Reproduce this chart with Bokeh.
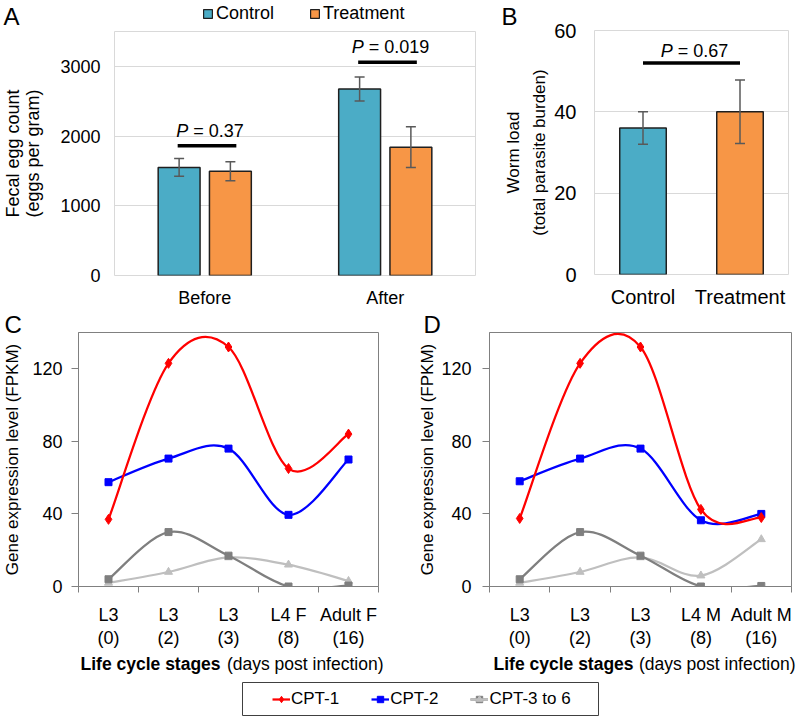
from bokeh.plotting import figure
from bokeh.models import (ColumnDataSource, FactorRange, Range1d, FixedTicker, Label,
                          Legend, LegendItem)
from bokeh.transform import dodge
from bokeh.layouts import column, row
from bokeh.core.properties import value
from bokeh.embed import file_html
from bokeh.resources import INLINE

FONT = "Liberation Sans"

# ---------------- Panel A: fecal egg count ----------------
groups = ["Before", "After"]
control_fec = [1550, 2675]
control_fec_err = [128, 171]
treatment_fec = [1495, 1840]
treatment_fec_err = [135, 292]
fec_p_values = ["0.37", "0.019"]
fec_p_bar = [1860, 3060]

# ---------------- Panel B: worm load ----------------
worm_groups = ["Control", "Treatment"]
worm_load = [36, 40]
worm_err = [4, 7.8]
worm_p_value = "0.67"
worm_p_bar = 52

# ---------------- Panels C / D: gene expression ----------------
stages_f = ["L3\n(0)", "L3\n(2)", "L3\n(3)", "L4 F\n(8)", "Adult F\n(16)"]
stages_m = ["L3\n(0)", "L3\n(2)", "L3\n(3)", "L4 M\n(8)", "Adult M\n(16)"]
cpt1_f = [37, 123, 132, 65, 84]
cpt2_f = [57.5, 70.5, 76, 39.5, 70]
cpt_dark_f = [4, 30, 17, 0, 0.5]
cpt_light_f = [2, 8, 16, 12, 3]
cpt1_m = [37.5, 123, 132, 42.5, 38]
cpt2_m = [58, 70.5, 76, 36.5, 40]
cpt_dark_m = [4, 30, 17, 0, 0.3]
cpt_light_m = [2, 8, 16, 6, 26]
expr_ticks = [0, 40, 80, 120]

TEAL = "#4bacc6"
ORANGE = "#f79646"
EDGE = "#1f1f1f"
ERR = "#595959"
LIGHTGRID = "#d9d9d9"
AXGRAY = "#808080"
RED = "#ff0000"
BLUE = "#0000ff"
DGRAY = "#7f7f7f"
LGRAY = "#bfbfbf"


def make_fig(width, height, x_range, y_range, bl, br, bt, bb, **kw):
    p = figure(width=width, height=height, x_range=x_range, y_range=y_range,
               output_backend="svg", toolbar_location=None,
               min_border_left=bl, min_border_right=br,
               min_border_top=bt, min_border_bottom=bb, **kw)
    p.background_fill_color = "white"
    p.border_fill_color = "white"
    return p


def strip(width, height, x_range=None, y_range=None, bl=0, br=0, bt=0, bb=0):
    p = make_fig(width, height, x_range or Range1d(0, 1), y_range or Range1d(0, 1), bl, br, bt, bb,
                 x_axis_location=None, y_axis_location=None)
    p.grid.visible = False
    p.outline_line_color = None
    return p


def style_axes(p, size):
    for ax in (p.xaxis + p.yaxis):
        ax.major_label_text_font = FONT
        ax.major_label_text_font_size = size
        ax.major_label_text_color = "black"
        ax.minor_tick_line_color = None
        ax.axis_label_text_font = FONT
        ax.axis_label_text_font_style = "normal"
        ax.axis_label_text_color = "black"


def label(p, text, x, y, size, align="left", baseline="middle", style="normal"):
    p.add_layout(Label(x=x, y=y, x_units="screen", y_units="screen", text=text,
                       text_align=align, text_baseline=baseline,
                       text_font=FONT, text_font_size=size, text_font_style=style,
                       text_color="black"))


def letter_title(p, letter, offset, standoff):
    p.title.text = letter
    p.title.align = "left"
    p.title.offset = offset
    p.title.text_font = FONT
    p.title.text_font_size = "24px"
    p.title.text_font_style = "normal"
    p.title.text_color = "black"
    p.title.standoff = standoff


def p_text_offsets(pv, size=18):
    w = size * (0.667 + 0.278 + 0.584 + 0.278 + sum(0.278 if c == "." else 0.556 for c in pv))
    return -w / 2 + 0.667 * size + 3, -w / 2 + (0.667 + 0.278) * size + 3


# ---------------- Panel A ----------------
pA = make_fig(500, 282, FactorRange(factors=groups), Range1d(0, 3500), 113, 25, 3, 33)
srcA = ColumnDataSource(dict(
    g=groups,
    c=control_fec, c_hi=[v + e for v, e in zip(control_fec, control_fec_err)],
    c_lo=[v - e for v, e in zip(control_fec, control_fec_err)],
    t=treatment_fec, t_hi=[v + e for v, e in zip(treatment_fec, treatment_fec_err)],
    t_lo=[v - e for v, e in zip(treatment_fec, treatment_fec_err)],
    pb=fec_p_bar,
    ptxt=["= " + v for v in fec_p_values],
    off_p=[p_text_offsets(v)[0] for v in fec_p_values],
    off_e=[p_text_offsets(v)[1] for v in fec_p_values],
))
pA.vbar(x=dodge("g", -0.142, range=pA.x_range), top="c", width=0.232, source=srcA,
        fill_color=TEAL, line_color=EDGE, line_width=1.5)
pA.vbar(x=dodge("g", 0.142, range=pA.x_range), top="t", width=0.232, source=srcA,
        fill_color=ORANGE, line_color=EDGE, line_width=1.5)
for off, hi, lo in ((-0.142, "c_hi", "c_lo"), (0.142, "t_hi", "t_lo")):
    xd = dodge("g", off, range=pA.x_range)
    pA.segment(x0=xd, x1=xd, y0=lo, y1=hi, source=srcA, line_color=ERR, line_width=1.5)
    pA.scatter(x=xd, y=hi, source=srcA, marker="dash", size=10, line_color=ERR, line_width=1.5)
    pA.scatter(x=xd, y=lo, source=srcA, marker="dash", size=10, line_color=ERR, line_width=1.5)
pA.segment(x0=dodge("g", -0.15, range=pA.x_range), x1=dodge("g", 0.175, range=pA.x_range),
           y0="pb", y1="pb", source=srcA, line_color="black", line_width=3.5)
pA.text(x=dodge("g", 0.0125, range=pA.x_range), y="pb", text=value("P"), source=srcA,
        x_offset="off_p", y_offset=-15, text_align="right", text_baseline="alphabetic",
        text_font=value(FONT), text_font_size="18px", text_font_style="italic", text_color="black")
pA.text(x=dodge("g", 0.0125, range=pA.x_range), y="pb", text="ptxt", source=srcA,
        x_offset="off_e", y_offset=-15, text_align="left", text_baseline="alphabetic",
        text_font=value(FONT), text_font_size="18px", text_color="black")
pA.xgrid.visible = False
tickA = FixedTicker(ticks=[0, 1000, 2000, 3000], minor_ticks=[])
pA.yaxis.ticker = tickA
pA.ygrid.ticker = tickA
pA.ygrid.grid_line_color = LIGHTGRID
pA.outline_line_color = LIGHTGRID
style_axes(pA, "18px")
for ax in (pA.xaxis + pA.yaxis):
    ax.axis_line_color = None
    ax.major_tick_line_color = None
    ax.major_tick_out = 0
    ax.major_tick_in = 0
pA.yaxis.major_label_standoff = 14
pA.xaxis.major_label_standoff = 12
pA.yaxis.axis_label = "Fecal egg count\n(eggs per gram)"
pA.yaxis.axis_label_text_font_size = "18px"
pA.yaxis.axis_label_text_line_height = 1.0
pA.yaxis.axis_label_standoff = 14

# header strip of panel A: letter and legend (legend proxies lie outside the strip's ranges)
hA = strip(500, 28, FactorRange(factors=groups), Range1d(5000, 5001))
pxA = ColumnDataSource(dict(g=groups, c=control_fec, t=treatment_fec))
lc = hA.vbar(x="g", top="c", width=0.2, source=pxA, fill_color=TEAL, line_color=EDGE, line_width=1.2)
lt = hA.vbar(x="g", top="t", width=0.2, source=pxA, fill_color=ORANGE, line_color=EDGE, line_width=1.2)
legA = Legend(items=[LegendItem(label="Control", renderers=[lc]),
                     LegendItem(label="Treatment", renderers=[lt])],
              orientation="horizontal", location=(202, 4), glyph_width=11, glyph_height=11,
              label_standoff=3, spacing=35, padding=0, margin=0,
              border_line_color=None, background_fill_alpha=0,
              label_text_font=FONT, label_text_font_size="18px", label_text_color="black")
hA.add_layout(legA)
label(hA, "A", 3, 12, "24px", baseline="alphabetic")

# ---------------- Panel B ----------------
pB = make_fig(300, 310, FactorRange(factors=worm_groups), Range1d(0, 60), 93, 12, 28, 34, title="B")
letter_title(pB, "B", -93, 1)
srcB = ColumnDataSource(dict(
    g=worm_groups, v=worm_load,
    hi=[v + e for v, e in zip(worm_load, worm_err)],
    lo=[v - e for v, e in zip(worm_load, worm_err)],
    color=[TEAL, ORANGE],
))
pB.vbar(x="g", top="v", width=0.48, source=srcB, fill_color="color", line_color=EDGE, line_width=1.5)
pB.segment(x0="g", x1="g", y0="lo", y1="hi", source=srcB, line_color=ERR, line_width=1.5)
pB.scatter(x="g", y="hi", source=srcB, marker="dash", size=10, line_color=ERR, line_width=1.5)
pB.scatter(x="g", y="lo", source=srcB, marker="dash", size=10, line_color=ERR, line_width=1.5)
srcBp = ColumnDataSource(dict(g0=[worm_groups[0]], g1=[worm_groups[1]], pb=[worm_p_bar],
                              ptxt=["= " + worm_p_value]))
pB.segment(x0="g0", x1="g1", y0="pb", y1="pb", source=srcBp, line_color="black", line_width=3.5)
offp, offe = p_text_offsets(worm_p_value)
pB.text(x=dodge("g0", 0.5, range=pB.x_range), y="pb", text=value("P"), source=srcBp,
        x_offset=offp, y_offset=-12, text_align="right", text_baseline="alphabetic",
        text_font=value(FONT), text_font_size="18px", text_font_style="italic", text_color="black")
pB.text(x=dodge("g0", 0.5, range=pB.x_range), y="pb", text="ptxt", source=srcBp,
        x_offset=offe, y_offset=-12, text_align="left", text_baseline="alphabetic",
        text_font=value(FONT), text_font_size="18px", text_color="black")
pB.xgrid.visible = False
tickB = FixedTicker(ticks=[0, 20, 40, 60], minor_ticks=[])
pB.yaxis.ticker = tickB
pB.ygrid.ticker = tickB
pB.ygrid.grid_line_color = LIGHTGRID
pB.outline_line_color = LIGHTGRID
style_axes(pB, "20px")
for ax in (pB.xaxis + pB.yaxis):
    ax.axis_line_color = None
    ax.major_tick_line_color = None
    ax.major_tick_out = 0
    ax.major_tick_in = 0
pB.yaxis.major_label_standoff = 18
pB.xaxis.major_label_standoff = 11
pB.yaxis.axis_label = "Worm load\n(total parasite burden)"
pB.yaxis.axis_label_text_font_size = "17px"
pB.yaxis.axis_label_text_line_height = 1.4
pB.yaxis.axis_label_standoff = 2


# ---------------- Panels C / D ----------------
def smooth_source(ys):
    xs = list(range(len(ys)))
    n = len(ys)
    d = dict(x0=[], y0=[], x1=[], y1=[], cx0=[], cy0=[], cx1=[], cy1=[])
    for i in range(n - 1):
        a = i - 1 if i > 0 else i
        b = i + 2 if i + 2 < n else i + 1
        d["x0"].append(xs[i]); d["y0"].append(ys[i])
        d["x1"].append(xs[i + 1]); d["y1"].append(ys[i + 1])
        d["cx0"].append(xs[i] + (xs[i + 1] - xs[a]) / 6)
        d["cy0"].append(ys[i] + (ys[i + 1] - ys[a]) / 6)
        d["cx1"].append(xs[i + 1] - (xs[b] - xs[i]) / 6)
        d["cy1"].append(ys[i + 1] - (ys[b] - ys[i]) / 6)
    return ColumnDataSource(d)


SERIES_STYLE = [("triangle", 8, LGRAY), ("square", 7, DGRAY), ("square", 7, BLUE), ("diamond", 10, RED)]


def expr_panel(stages, cpt1, cpt2, cdark, clight, bl, br, ystand, lstand, letter, loff):
    n = len(stages)
    p = make_fig(400, 340, Range1d(-0.5, n - 0.5), Range1d(0, 140), bl, br, 22, 59, title=letter)
    letter_title(p, letter, loff, -10)
    for ys, (mk, sz, col) in zip([clight, cdark, cpt2, cpt1], SERIES_STYLE):
        p.bezier(x0="x0", y0="y0", x1="x1", y1="y1", cx0="cx0", cy0="cy0", cx1="cx1", cy1="cy1",
                 source=smooth_source(ys), line_color=col, line_width=2.25)
        p.scatter(x=list(range(n)), y=ys, marker=mk, size=sz, fill_color=col, line_color=col)
    p.grid.visible = False
    p.outline_line_color = AXGRAY
    p.xaxis.ticker = FixedTicker(ticks=list(range(n)), minor_ticks=[i - 0.5 for i in range(n + 1)])
    p.xaxis.major_label_overrides = {i: s for i, s in enumerate(stages)}
    p.yaxis.ticker = FixedTicker(ticks=expr_ticks, minor_ticks=[])
    style_axes(p, "18px")
    p.xaxis.major_label_text_line_height = 1.15
    for ax in (p.xaxis + p.yaxis):
        ax.axis_line_color = AXGRAY
        ax.major_tick_line_color = AXGRAY
    p.xaxis.major_tick_line_color = None
    p.xaxis.major_tick_out = 0
    p.xaxis.major_tick_in = 0
    p.xaxis.minor_tick_line_color = AXGRAY
    p.xaxis.minor_tick_out = 6
    p.xaxis.minor_tick_in = 0
    p.xaxis.major_label_standoff = 12
    p.yaxis.major_tick_out = 7
    p.yaxis.major_tick_in = 0
    p.yaxis.major_label_standoff = ystand
    p.yaxis.axis_label = "Gene expression level (FPKM)"
    p.yaxis.axis_label_text_font_size = "17px"
    p.yaxis.axis_label_standoff = lstand
    return p


pC = expr_panel(stages_f, cpt1_f, cpt2_f, cpt_dark_f, cpt_light_f, 76, 22, 9, 7, "C", -74)
pD = expr_panel(stages_m, cpt1_m, cpt2_m, cpt_dark_m, cpt_light_m, 89, 9, 11, 1, "D", -66)

# x-axis titles strip for C / D
tCD = strip(800, 26)
label(tCD, "Life cycle stages", 80, 13, "17.5px", style="bold")
label(tCD, "(days post infection)", 383, 13, "17.5px", align="right")
label(tCD, "Life cycle stages", 493, 13, "17.5px", style="bold")
label(tCD, "(days post infection)", 795, 13, "17.5px", align="right")

# ---------------- shared legend (proxies lie outside this strip's ranges) ----------------
pL = make_fig(800, 44, Range1d(-20, -19), Range1d(-20, -19), 242, 202, 6, 5,
              x_axis_location=None, y_axis_location=None)
pL.grid.visible = False
pL.outline_line_color = "#404040"
xi = list(range(len(stages_f)))
legend_items = []
for lab, group in (("CPT-1", [(cpt1_f, SERIES_STYLE[3])]),
                   ("CPT-2", [(cpt2_f, SERIES_STYLE[2])]),
                   ("CPT-3 to 6", [(cpt_dark_f, SERIES_STYLE[1]), (cpt_light_f, SERIES_STYLE[0])])):
    rs = []
    for ys, (mk, sz, col) in group:
        rs.append(pL.line(x=xi, y=ys, line_color=col, line_width=2.25))
        rs.append(pL.scatter(x=xi, y=ys, marker=mk, size=sz, fill_color=col, line_color=col))
    legend_items.append(LegendItem(label=lab, renderers=rs))
legL = Legend(items=legend_items, orientation="horizontal", location=(30, 6),
              glyph_width=18, glyph_height=16, label_standoff=1, spacing=32, padding=0, margin=0,
              border_line_color=None, background_fill_alpha=0,
              label_text_font=FONT, label_text_font_size="17px", label_text_color="black")
pL.add_layout(legL)

layout = column(row(column(row(hA), pA), pB), row(pC, pD), row(tCD), row(pL))
open("out.html", "w").write(file_html(layout, INLINE))
